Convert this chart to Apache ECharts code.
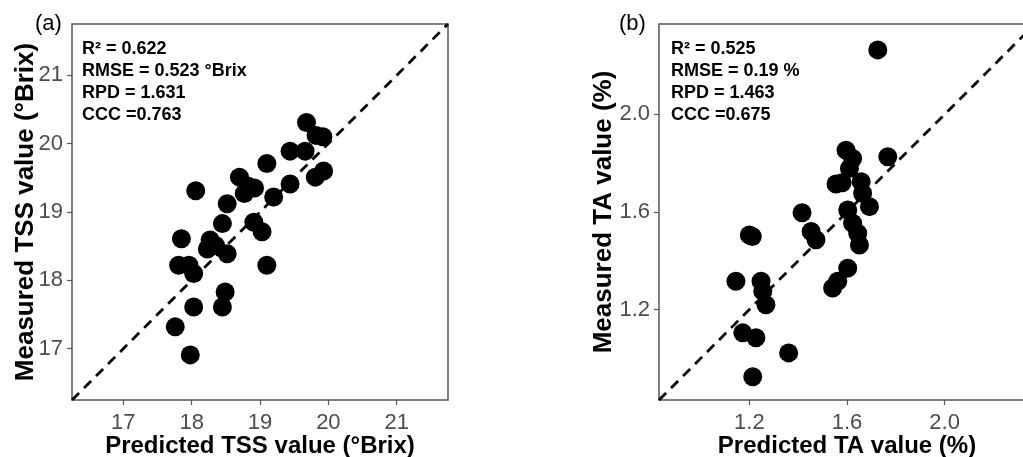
<!DOCTYPE html>
<html>
<head>
<meta charset="utf-8">
<script src="https://cdn.jsdelivr.net/npm/echarts@6/dist/echarts.min.js"></script>
<style>
  html, body { margin: 0; padding: 0; background: #fff; }
  #chart { width: 1023px; height: 457px; }
</style>
</head>
<body>
<div id="chart"></div>
<script>
// (a) TSS: predicted vs measured (°Brix)
const tssPred = [19.68, 19.82, 19.92, 19.44, 19.66, 19.10, 19.93, 19.81, 18.70, 18.82, 18.92, 18.77, 18.06, 19.44, 19.20, 18.52,
  18.45, 18.91, 19.03, 17.85, 18.27, 18.23, 18.35, 18.52, 17.81, 17.96, 18.03, 19.10, 18.49, 18.45, 18.03, 17.76, 17.98];
const tssMeas = [20.31, 20.12, 20.10, 19.89, 19.89, 19.71, 19.60, 19.51, 19.51, 19.38, 19.35, 19.27, 19.31, 19.41, 19.22, 19.12,
  18.83, 18.85, 18.71, 18.61, 18.59, 18.46, 18.51, 18.39, 18.22, 18.22, 18.10, 18.22, 17.83, 17.61, 17.61, 17.32, 16.91];
const tssTicks = [17, 18, 19, 20, 21];
const tssRange = [16.25, 21.75];
const tssStats = ['R² = 0.622', 'RMSE = 0.523 °Brix', 'RPD = 1.631', 'CCC =0.763'];

// (b) TA: predicted vs measured (%)
const taPred = [1.726, 1.596, 1.623, 1.767, 1.61, 1.555, 1.58, 1.658, 1.664, 1.692, 1.603, 1.416, 1.453, 1.473, 1.623, 1.644,
  1.651, 1.200, 1.212, 1.603, 1.562, 1.541, 1.145, 1.248, 1.255, 1.268, 1.173, 1.227, 1.361, 1.214];
const taMeas = [2.264, 1.853, 1.819, 1.826, 1.778, 1.715, 1.72, 1.724, 1.676, 1.622, 1.608, 1.597, 1.52, 1.486, 1.554, 1.513,
  1.465, 1.506, 1.50, 1.37, 1.316, 1.289, 1.316, 1.316, 1.275, 1.22, 1.105, 1.085, 1.023, 0.925];
const taTicks = [1.2, 1.6, 2.0];
const taRange = [0.83, 2.37];
const taStats = ['R² = 0.525', 'RMSE = 0.19 %', 'RPD = 1.463', 'CCC =0.675'];

const FONT = 'Liberation Sans, Arial, sans-serif';
const chart = echarts.init(document.getElementById('chart'));

function makeAxis(idx, range, ticks, name, gap, isY, digits) {
  return {
    type: 'value',
    gridIndex: idx,
    min: range[0],
    max: range[1],
    name: name,
    nameLocation: 'middle',
    nameGap: gap,
    nameMoveOverlap: false,
    nameTextStyle: { fontFamily: FONT, fontSize: isY ? 26 : 24, fontWeight: 'bold', color: '#000' },
    splitLine: { show: false },
    axisLine: { show: false },
    axisTick: { show: true, length: 5, customValues: ticks, lineStyle: { color: '#555', width: 1.2 } },
    axisLabel: {
      customValues: ticks,
      margin: isY ? 9 : 12,
      fontFamily: FONT, fontSize: 22, color: '#4d4d4d',
      formatter: v => v.toFixed(digits)
    }
  };
}

function pairs(xs, ys) {
  return xs.map((x, i) => [x, ys[i]]);
}

const gridStyle = {
  show: true, borderColor: '#555', borderWidth: 1.5, backgroundColor: '#fff',
  containLabel: false, outerBoundsMode: 'none'
};

chart.setOption({
  animation: false,
  backgroundColor: '#fff',
  grid: [
    Object.assign({ left: 72, top: 24, width: 376, height: 376 }, gridStyle),
    Object.assign({ left: 659, top: 24, width: 376, height: 376 }, gridStyle)
  ],
  xAxis: [
    makeAxis(0, tssRange, tssTicks, 'Predicted TSS value (°Brix)', 34, false, 0),
    makeAxis(1, taRange, taTicks, 'Predicted TA value (%)', 34, false, 1)
  ],
  yAxis: [
    makeAxis(0, tssRange, tssTicks, 'Measured TSS value (°Brix)', 33, true, 0),
    makeAxis(1, taRange, taTicks, 'Measured TA value (%)', 42, true, 1)
  ],
  series: [
    {
      type: 'line', xAxisIndex: 0, yAxisIndex: 0, symbol: 'none', silent: true,
      data: [[tssRange[0], tssRange[0]], [tssRange[1], tssRange[1]]],
      lineStyle: { color: '#000', width: 2.8, type: [10, 7] }
    },
    {
      type: 'scatter', xAxisIndex: 0, yAxisIndex: 0, symbolSize: 19,
      itemStyle: { color: '#000', opacity: 1 },
      data: pairs(tssPred, tssMeas)
    },
    {
      type: 'line', xAxisIndex: 1, yAxisIndex: 1, symbol: 'none', silent: true,
      data: [[taRange[0], taRange[0]], [taRange[1], taRange[1]]],
      lineStyle: { color: '#000', width: 2.8, type: [10, 7] }
    },
    {
      type: 'scatter', xAxisIndex: 1, yAxisIndex: 1, symbolSize: 19,
      itemStyle: { color: '#000', opacity: 1 },
      data: pairs(taPred, taMeas)
    }
  ],
  graphic: [
    { type: 'text', left: 35, top: 13, style: { text: '(a)', font: '22px ' + FONT, fill: '#000' } },
    { type: 'text', left: 619, top: 13, style: { text: '(b)', font: '22px ' + FONT, fill: '#000' } },
    { type: 'text', left: 82, top: 38, style: { text: tssStats.join('\n'), font: 'bold 18px ' + FONT, lineHeight: 22, fill: '#000' } },
    { type: 'text', left: 671, top: 38, style: { text: taStats.join('\n'), font: 'bold 18px ' + FONT, lineHeight: 22, fill: '#000' } }
  ]
});
</script>
</body>
</html>
